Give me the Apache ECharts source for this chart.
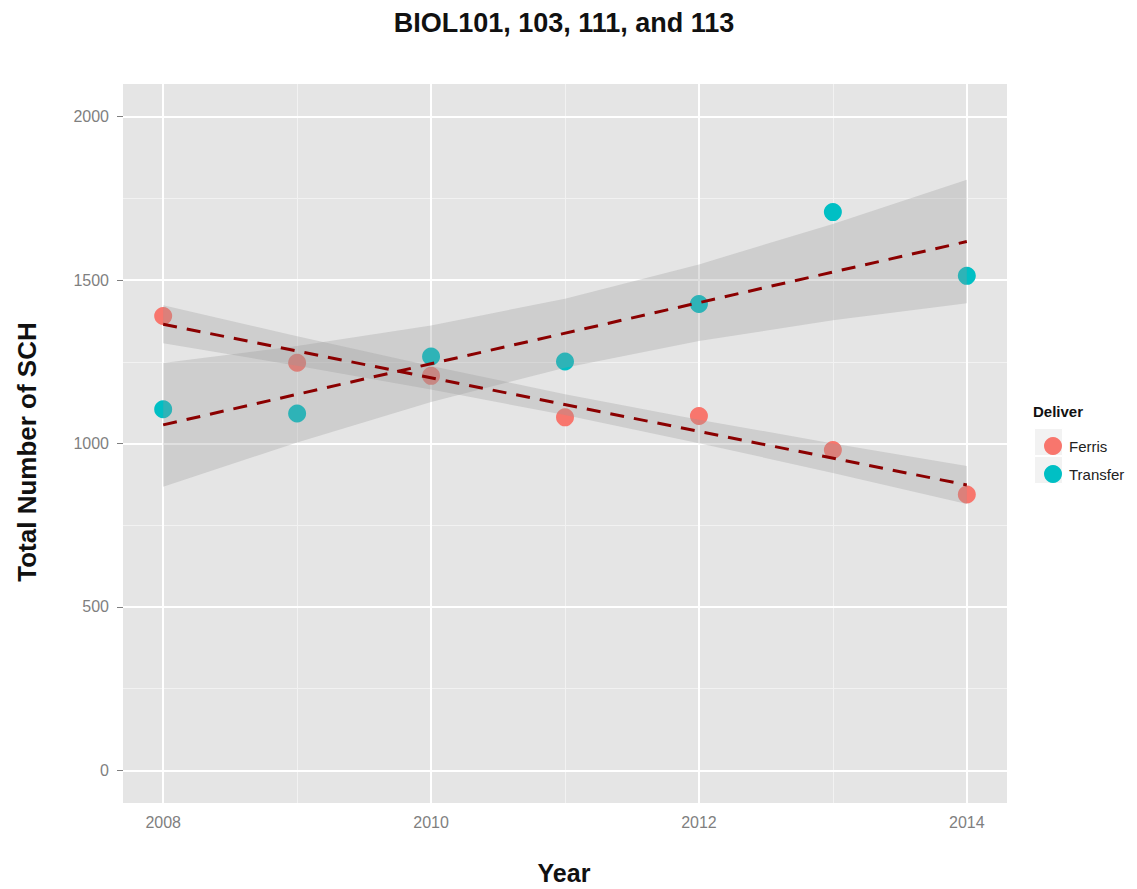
<!DOCTYPE html>
<html>
<head>
<meta charset="utf-8">
<script src="https://cdn.jsdelivr.net/npm/echarts@6/dist/echarts.min.js"></script>
<style>html,body{margin:0;padding:0;background:#fff}#c{width:1137px;height:889px}</style>
</head>
<body>
<div id="c"></div>
<script>
const years = [2008, 2009, 2010, 2011, 2012, 2013, 2014];
const ferris = [1390, 1247, 1207, 1080, 1084, 980, 844];
const transfer = [1105, 1092, 1266, 1251, 1427, 1708, 1513];
const trendYears = [2008, 2014];
const ferrisTrend = [1365, 873];
const transferTrend = [1057, 1618];
const ferrisLower = [1307, 1238, 1165, 1087, 1001, 910, 815];
const ferrisUpper = [1423, 1328, 1237, 1151, 1073, 1000, 931];
const transferLower = [868, 1003, 1127, 1232, 1314, 1377, 1429];
const transferUpper = [1246, 1298, 1361, 1443, 1548, 1672, 1807];
const xTicks = [2008, 2010, 2012, 2014];
const xMinor = [2009, 2011, 2013];
const yTicks = [0, 500, 1000, 1500, 2000];
const yMinor = [250, 750, 1250, 1750];

const FONT = '"Liberation Sans", Arial, sans-serif';
const pair = (xs, ys) => xs.map((x, i) => [x, ys[i]]);

const gridLines = [
  ...xMinor.map(v => ({ xAxis: v, lineStyle: { color: '#f2f2f2', width: 1, type: 'solid' } })),
  ...yMinor.map(v => ({ yAxis: v, lineStyle: { color: '#f2f2f2', width: 1, type: 'solid' } })),
  ...xTicks.map(v => ({ xAxis: v, lineStyle: { color: '#ffffff', width: 2, type: 'solid' } })),
  ...yTicks.map(v => ({ yAxis: v, lineStyle: { color: '#ffffff', width: 2, type: 'solid' } }))
];

const bandSeries = (name, lo, hi) => ({
  name: name, type: 'custom', silent: true, z: 3,
  data: years.map((x, i) => [x, lo[i], hi[i]]),
  encode: { x: 0, y: [1, 2] },
  renderItem: (params, api) => {
    if (params.dataIndex !== 0) return null;
    const upperPts = years.map((x, i) => api.coord([x, hi[i]]));
    const lowerPts = years.map((x, i) => api.coord([x, lo[i]])).reverse();
    return { type: 'polygon', shape: { points: upperPts.concat(lowerPts) },
      style: { fill: 'rgba(153,153,153,0.3)', stroke: 'none' } };
  }
});

const chart = echarts.init(document.getElementById('c'), null, { renderer: 'svg' });
chart.setOption({
  animation: false,
  backgroundColor: '#ffffff',
  textStyle: { fontFamily: FONT },
  grid: { left: 123, right: 130, top: 84, bottom: 86, show: true, backgroundColor: '#e5e5e5', borderWidth: 0 },
  xAxis: {
    type: 'value', min: 2007.7, max: 2014.3,
    axisLine: { show: false },
    splitLine: { show: false },
    axisTick: { show: true, customValues: xTicks, length: 5, lineStyle: { color: '#7f7f7f', width: 1 } },
    axisLabel: { customValues: xTicks, color: '#7f7f7f', fontSize: 16, margin: 11, fontFamily: FONT,
      formatter: v => String(v) }
  },
  yAxis: {
    type: 'value', min: -100, max: 2100,
    axisLine: { show: false },
    splitLine: { show: false },
    axisTick: { show: true, customValues: yTicks, length: 6, lineStyle: { color: '#7f7f7f', width: 1 } },
    axisLabel: { customValues: yTicks, color: '#7f7f7f', fontSize: 16, margin: 14, fontFamily: FONT,
      formatter: v => String(v) }
  },
  legend: {
    data: ['Ferris', 'Transfer'], orient: 'vertical', left: 1039, top: 432,
    itemWidth: 18, itemHeight: 18, itemGap: 10, icon: 'circle', selectedMode: false,
    textStyle: { fontSize: 15, color: '#222222', fontFamily: FONT, padding: [0, 0, 0, 2] }
  },
  graphic: [
    { type: 'rect', left: 1034, top: 428, shape: { width: 28, height: 27 }, style: { fill: '#f2f2f2', stroke: '#ffffff', lineWidth: 1 }, z: -1 },
    { type: 'rect', left: 1034, top: 456, shape: { width: 28, height: 27 }, style: { fill: '#f2f2f2', stroke: '#ffffff', lineWidth: 1 }, z: -1 },
    { type: 'text', x: 1033, y: 411, style: { text: 'Deliver', font: 'bold 15px ' + FONT, fill: '#111', textAlign: 'left', textVerticalAlign: 'middle' } },
    { type: 'text', x: 564, y: 23, style: { text: 'BIOL101, 103, 111, and 113', font: 'bold 27px ' + FONT, fill: '#111', textAlign: 'center', textVerticalAlign: 'middle' } },
    { type: 'text', x: 564, y: 873, style: { text: 'Year', font: 'bold 25px ' + FONT, fill: '#111', textAlign: 'center', textVerticalAlign: 'middle' } },
    { type: 'text', x: 27, y: 452, rotation: Math.PI / 2, style: { text: 'Total Number of SCH', font: 'bold 26px ' + FONT, fill: '#111', textAlign: 'center', textVerticalAlign: 'middle' } }
  ],
  series: [
    { name: 'grid', type: 'line', data: [], z: 1, silent: true,
      markLine: { silent: true, z: 1, symbol: ['none', 'none'], label: { show: false }, animation: false, data: gridLines } },
    { name: 'Ferris', type: 'scatter', data: pair(years, ferris), symbolSize: 18, itemStyle: { color: '#F8766D', opacity: 1 }, z: 2 },
    { name: 'Transfer', type: 'scatter', data: pair(years, transfer), symbolSize: 18, itemStyle: { color: '#00BFC4', opacity: 1 }, z: 2 },
    bandSeries('ferrisBand', ferrisLower, ferrisUpper),
    bandSeries('transferBand', transferLower, transferUpper),
    { name: 'Ferris trend', type: 'line', data: pair(trendYears, ferrisTrend), showSymbol: false, symbol: 'none', silent: true, z: 4,
      lineStyle: { color: '#8B0000', width: 3, type: [14, 10] } },
    { name: 'Transfer trend', type: 'line', data: pair(trendYears, transferTrend), showSymbol: false, symbol: 'none', silent: true, z: 4,
      lineStyle: { color: '#8B0000', width: 3, type: [14, 10] } }
  ]
});
</script>
</body>
</html>
